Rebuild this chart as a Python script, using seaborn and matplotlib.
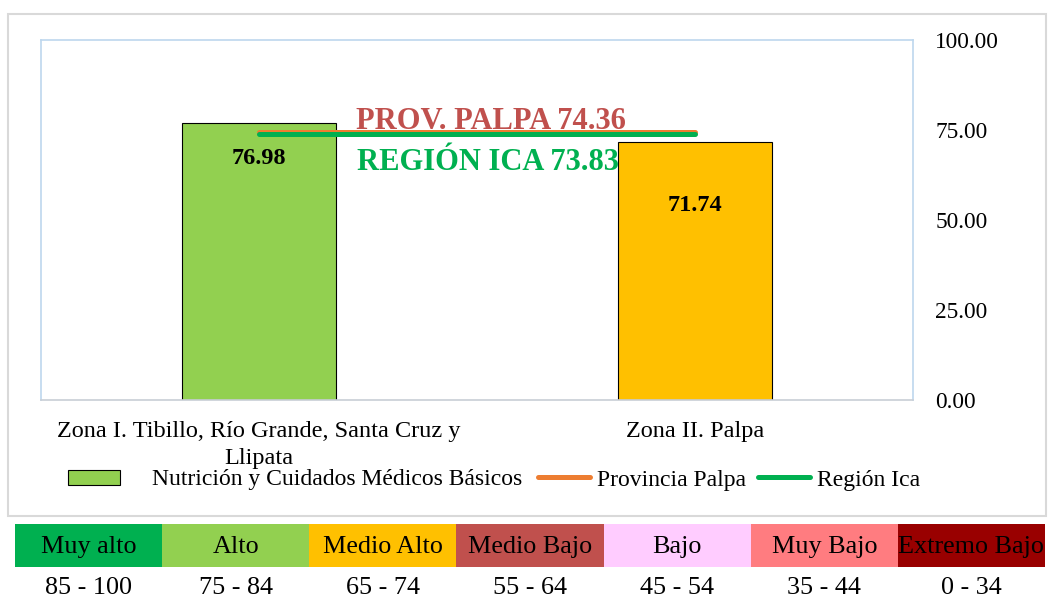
import matplotlib
matplotlib.use("Agg")
import matplotlib.pyplot as plt
import seaborn as sns
import pandas as pd
from matplotlib.patches import Rectangle, Patch
from matplotlib.lines import Line2D
from matplotlib.ticker import FixedLocator, FormatStrFormatter

# ---------------- data ----------------
categories = ["Zona I. Tibillo, Río Grande, Santa Cruz y\nLlipata", "Zona II. Palpa"]
values = [76.98, 71.74]
bar_colors = ["#92D050", "#FFC000"]
prov_palpa = 74.36
region_ica = 73.83
series_name = "Nutrición y Cuidados Médicos Básicos"
prov_name = "Provincia Palpa"
region_name = "Región Ica"
prov_label = "PROV. PALPA 74.36"
region_label = "REGIÓN ICA 73.83"
y_ticks = [0, 25, 50, 75, 100]

level_names = ["Muy alto", "Alto", "Medio Alto", "Medio Bajo", "Bajo", "Muy Bajo", "Extremo Bajo"]
level_ranges = ["85 - 100", "75 - 84", "65 - 74", "55 - 64", "45 - 54", "35 - 44", "0 - 34"]
level_colors = ["#00B050", "#92D050", "#FFC000", "#C0504D", "#FFCCFF", "#FF7C80", "#990000"]

# ---------------- style ----------------
sns.set_style("white")
plt.rcParams["font.family"] = ["Liberation Serif", "DejaVu Serif"]
plt.rcParams["text.color"] = "black"
plt.rcParams["xtick.color"] = "black"
plt.rcParams["ytick.color"] = "black"

W, H = 1048, 601
fig = plt.figure(figsize=(W / 100, H / 100), dpi=100)

def fx(px):
    return px / W

def fy(py):
    return 1 - py / H

# outer chart frame
fig.add_artist(Rectangle((fx(8), fy(516)), fx(1046) - fx(8), fy(14) - fy(516),
                         transform=fig.transFigure, fill=False,
                         edgecolor="#D9D9D9", lw=1.5))

# main plot area
ax = fig.add_axes([fx(41), fy(400), fx(913) - fx(41), fy(40) - fy(400)])
df = pd.DataFrame({"cat": categories, "val": values})
sns.barplot(data=df, x="cat", y="val", hue="cat", palette=bar_colors,
            saturation=1, legend=False, width=0.353, edgecolor="black",
            linewidth=0.8, ax=ax, zorder=2)
ax.set_xlim(-0.5, 1.5)
ax.set_ylim(0, 100)
ax.set_xlabel("")
ax.set_ylabel("")

# reference lines (center of bar 1 to center of bar 2)
ax.plot([0, 1], [prov_palpa, prov_palpa], color="#ED7D31", lw=3.6,
        solid_capstyle="round", zorder=4)
ax.plot([0, 1], [region_ica, region_ica], color="#00B050", lw=3.6,
        solid_capstyle="round", zorder=5)

# annotations
ax.annotate(prov_label, xy=(0.5, prov_palpa), xytext=(10, 7.5),
            textcoords="offset points", ha="center", va="center",
            fontsize=22, fontweight="bold", color="#C0504D", zorder=3)
ax.annotate(region_label, xy=(0.5, region_ica), xytext=(8, -20.5),
            textcoords="offset points", ha="center", va="center",
            fontsize=22, fontweight="bold", color="#00B050", zorder=3)

label_offsets = [-25.5, -46]
for i, (v, off) in enumerate(zip(values, label_offsets)):
    ax.annotate(f"{v:.2f}", xy=(i, v), xytext=(0, off),
                textcoords="offset points", ha="center", va="center",
                fontsize=17.5, fontweight="bold", color="black", zorder=6)

# axes styling
ax.yaxis.tick_right()
ax.yaxis.set_major_locator(FixedLocator(y_ticks))
ax.yaxis.set_major_formatter(FormatStrFormatter("%.2f"))
ax.tick_params(axis="y", length=0, pad=16, labelsize=16.8)
ax.tick_params(axis="x", length=0, pad=15, labelsize=17.5)
for lbl in ax.get_xticklabels():
    lbl.set_linespacing(1.4)
for s in ["left", "top", "right"]:
    ax.spines[s].set_color("#BDD7EE")
    ax.spines[s].set_linewidth(1.2)
ax.spines["bottom"].set_color("#C8CED6")
ax.spines["bottom"].set_linewidth(1.2)
ax.grid(False)

# legend (two parts to reproduce the spacing)
h_bar = [Patch(facecolor=bar_colors[0], edgecolor="black", lw=0.8, label=series_name)]
h_lines = [Line2D([0], [0], color="#ED7D31", lw=3.6, solid_capstyle="round", label=prov_name),
           Line2D([0], [0], color="#00B050", lw=3.6, solid_capstyle="round", label=region_name)]
leg1 = fig.legend(handles=h_bar, loc="center left", bbox_to_anchor=(fx(68), fy(480)),
                  frameon=False, fontsize=17, handlelength=2.2, handleheight=0.6,
                  handletextpad=1.35, borderpad=0, borderaxespad=0)
leg2 = fig.legend(handles=h_lines, loc="center left", bbox_to_anchor=(fx(538), fy(480)),
                  ncol=2, frameon=False, fontsize=17, handlelength=2.2,
                  handletextpad=0.3, columnspacing=0.5, borderpad=0, borderaxespad=0)

# level table
axt = fig.add_axes([fx(15), fy(601), fx(1045) - fx(15), fy(524) - fy(601)])
axt.set_xlim(0, len(level_names))
axt.set_ylim(1, 0)
axt.axis("off")
cell_h = 43 / 77
axt.bar([i + 0.5 for i in range(len(level_names))], [cell_h] * len(level_names),
        bottom=0, width=1.0, color=level_colors, linewidth=0)
for i, (name, rng) in enumerate(zip(level_names, level_ranges)):
    axt.text(i + 0.5, cell_h / 2 + 0.02, name, ha="center", va="center",
             fontsize=18.8, color="black")
    axt.text(i + 0.5, (588 - 524) / 77, rng, ha="center", va="center",
             fontsize=18.8, color="black")

fig.savefig("out.png", dpi=100)
